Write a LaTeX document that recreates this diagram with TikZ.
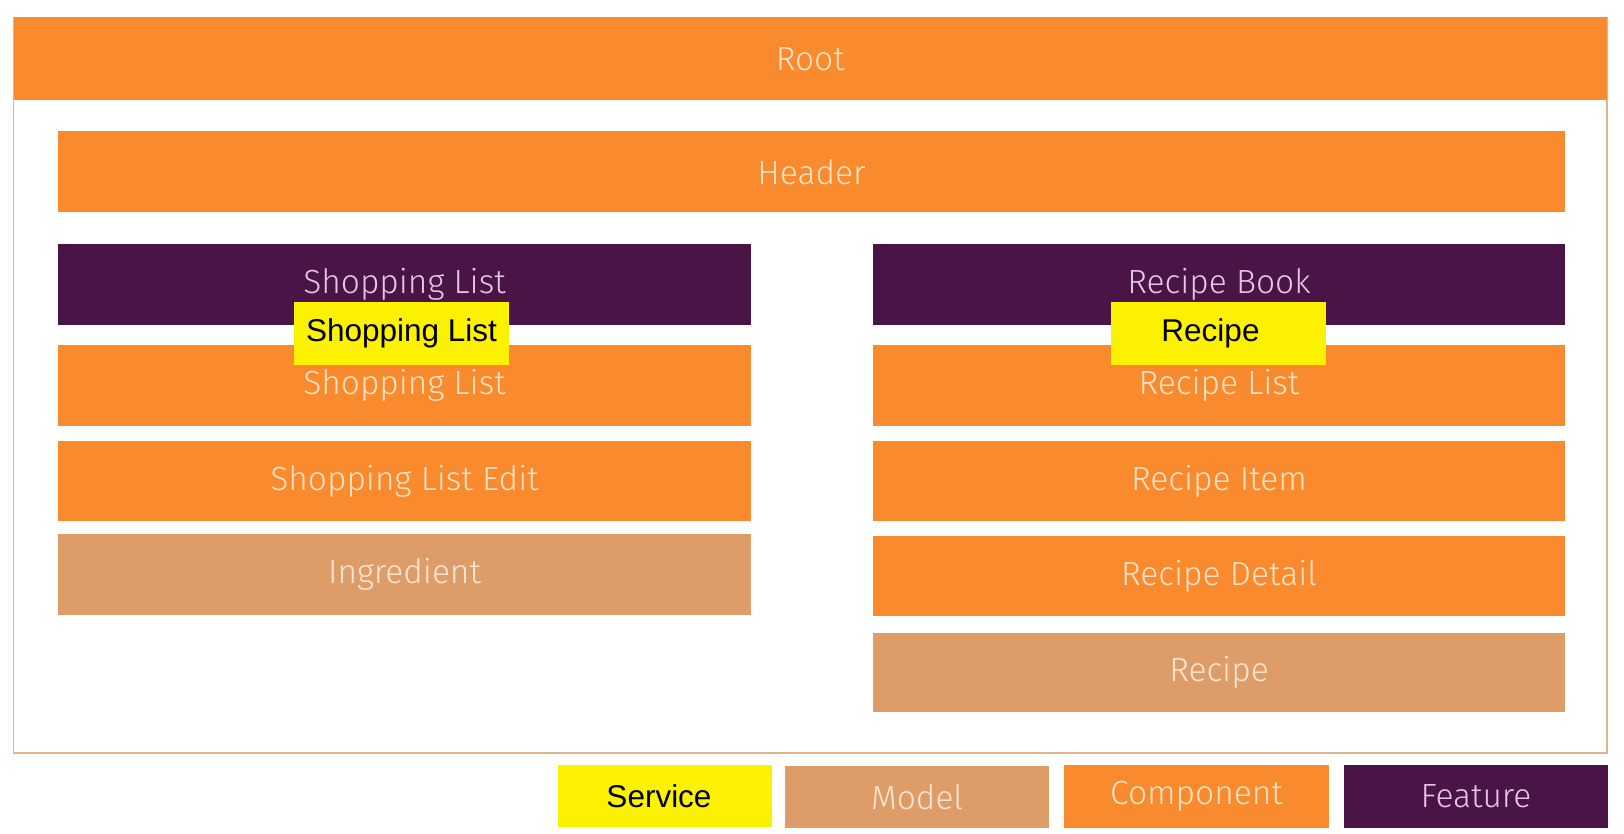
\documentclass[tikz,border=0pt]{standalone}
\usepackage{fontspec}
\setmainfont{Fira Sans Light}
\newfontfamily\arialf{Liberation Sans}
\definecolor{corange}{HTML}{F98A2E}
\definecolor{cpurple}{HTML}{4A1446}
\definecolor{ctan}{HTML}{DE9D68}
\definecolor{cyellow}{HTML}{FCF200}
\definecolor{cframe}{HTML}{E2B48A}
\definecolor{tcream}{HTML}{FDE2C4}
\definecolor{tpink}{HTML}{E6C6E4}
\definecolor{ttan}{HTML}{FBE6D2}
\tikzset{
  bar/.style={draw=none, inner sep=0pt, font=\fontsize{33.5}{35}\selectfont},
  comp/.style={bar, fill=corange, text=tcream},
  feat/.style={bar, fill=cpurple, text=tpink},
  model/.style={bar, fill=ctan, text=ttan},
  svc/.style={draw=none, fill=cyellow, text=black, inner sep=0pt, font=\arialf\fontsize{31.5}{33}\selectfont},
}
\begin{document}
\begin{tikzpicture}[x=1pt,y=-1pt]
\useasboundingbox (0,0) rectangle (1624,834);
\fill[white] (0,0) rectangle (1624,834);
% frame
\draw[cframe, line width=1.5pt] (13.5,17.5) rectangle (1607,753);
% bars
\path[comp] (13.5,17.5) rectangle (1607,100.5) node[midway] (root) {Root};
\path[comp] (58,131.5) rectangle (1565,212) node[midway] (header) {Header};
\path[feat] (58,244) rectangle (751,325) node[midway] (slf) {Shopping List};
\path[feat] (873,244) rectangle (1565,325) node[midway] (rbf) {Recipe Book};
\path[comp] (58,345) rectangle (751,426) node[midway] (slc) {Shopping List};
\path[comp] (58,441) rectangle (751,521) node[midway] (sle) {Shopping List Edit};
\path[model] (58,534) rectangle (751,615) node[midway] (ing) {Ingredient};
\path[comp] (873,345) rectangle (1565,426) node[midway] (rlc) {Recipe List};
\path[comp] (873,441) rectangle (1565,521) node[midway] (ric) {Recipe Item};
\path[comp] (873,536) rectangle (1565,616) node[midway] (rdc) {Recipe Detail};
\path[model] (873,633) rectangle (1565,712) node[midway] (rm) {Recipe};
% services
\path[svc] (294,302) rectangle (509,365) node[midway] (sls) {Shopping List};
\path[svc] (1111,302) rectangle (1326,365) node[midway, xshift=-8pt] (rs) {Recipe};
% legend
\path[svc] (558,765) rectangle (772,827) node[midway, xshift=-6pt] (lsvc) {Service};
\path[model] (785,766) rectangle (1049,828) node[midway] (lmod) {Model};
\path[comp] (1064,765) rectangle (1329,828) node[midway] (lcomp) {Component};
\path[feat] (1344,765) rectangle (1608,828) node[midway] (lfeat) {Feature};
\end{tikzpicture}
\end{document}
